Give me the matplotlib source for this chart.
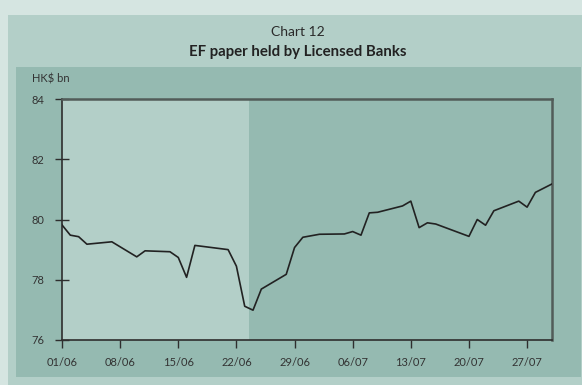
import matplotlib
matplotlib.use("Agg")
import matplotlib.pyplot as plt
from matplotlib.patches import Rectangle
import numpy as np

# days counted from 01/06
days = [0, 1, 2, 3, 6, 9, 10, 13, 14, 15, 16, 20, 21, 22, 23, 24, 27, 28, 29,
        31, 34, 35, 36, 37, 38, 41, 42, 43, 44, 45, 49, 50, 51, 52, 55, 56, 57, 59]
held = [79.82, 79.48, 79.43, 79.18, 79.26, 78.76, 78.96, 78.93, 78.74, 78.08,
        79.14, 79.00, 78.45, 77.12, 76.99, 77.69, 78.18, 79.07, 79.41,
        79.51, 79.52, 79.60, 79.48, 80.22, 80.24, 80.45, 80.61, 79.73, 79.89,
        79.85, 79.44, 80.00, 79.81, 80.29, 80.61, 80.41, 80.90, 81.18]

tick_days = [0, 7, 14, 21, 28, 35, 42, 49, 56]
tick_labels = ["01/06", "08/06", "15/06", "22/06", "29/06", "06/07", "13/07", "20/07", "27/07"]
y_ticks = [76, 78, 80, 82, 84]

W, H = 582, 385
fig = plt.figure(figsize=(W / 100, H / 100), dpi=100)
fig.patch.set_facecolor("#d5e5e1")

def px_rect(x0, y0, x1, y1, color):
    fig.patches.append(Rectangle((x0 / W, 1 - y1 / H), (x1 - x0) / W, (y1 - y0) / H,
                                 transform=fig.transFigure, facecolor=color,
                                 edgecolor="none", zorder=-10))

px_rect(8, 15, W, H, "#b3cfc8")
px_rect(16, 67, 581, 377, "#95bab1")

fig.text(298 / W, 1 - 32 / H, "Chart 12", ha="center", va="center",
         fontsize=10, family="Lato", color="#2a2a2a")
fig.text(298 / W, 1 - 52 / H, "EF paper held by Licensed Banks", ha="center",
         va="center", fontsize=10.8, family="Lato", weight="bold", color="#222222")
fig.text(32 / W, 1 - 79 / H, "HK$ bn", ha="left", va="center",
         fontsize=8, family="Lato", color="#333333")

ax = fig.add_axes([62 / W, 1 - 340 / H, (552 - 62) / W, (340 - 99) / H])
ax.set_zorder(5)
ax.set_facecolor("#95bab1")
ax.axvspan(0, 22.5, color="#b3cfc8", zorder=0, lw=0)

ax.plot(days, held, color="#222222", lw=1.2, zorder=3)

ax.set_xlim(0, 59)
ax.set_ylim(76, 84)
ax.set_xticks(tick_days)
ax.set_xticklabels(tick_labels)
ax.set_yticks(y_ticks)

for s in ["left", "bottom"]:
    ax.spines[s].set_color("#2e2e2e")
    ax.spines[s].set_linewidth(1.2)
for s in ["top", "right"]:
    ax.spines[s].set_color("#525c59")
    ax.spines[s].set_linewidth(1.8)

ax.tick_params(axis="y", direction="inout", length=10, width=1, color="#2e2e2e",
               labelsize=8, labelcolor="#333333", pad=8)
ax.tick_params(axis="x", direction="out", length=6, width=1, color="#2e2e2e",
               labelsize=8, labelcolor="#333333", pad=6)
for lab in ax.get_xticklabels() + ax.get_yticklabels():
    lab.set_family("Lato")

fig.savefig("out.png", dpi=100, facecolor=fig.get_facecolor())
